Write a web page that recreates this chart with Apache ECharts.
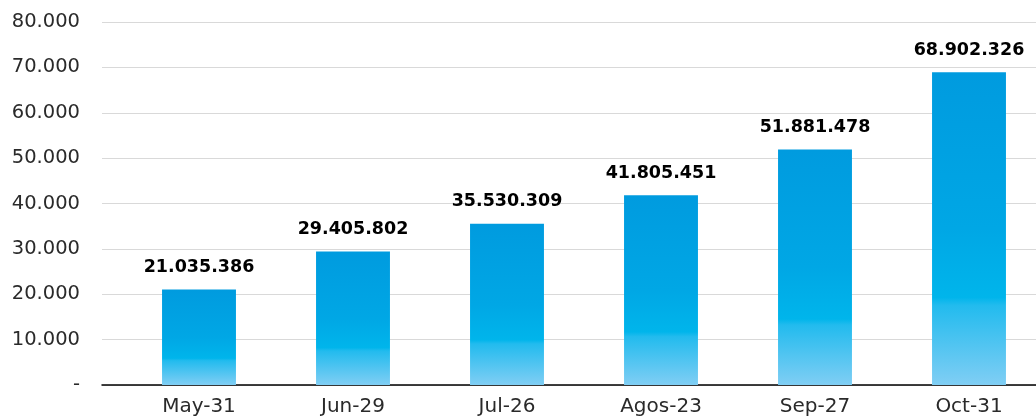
<!DOCTYPE html>
<html>
<head>
<meta charset="utf-8">
<script src="https://cdn.jsdelivr.net/npm/echarts@6/dist/echarts.min.js"></script>
<style>
html,body{margin:0;padding:0;background:#fff;}
#chart{width:1036px;height:416px;}
</style>
</head>
<body>
<div id="chart"></div>
<script>
const categories = ['May-31', 'Jun-29', 'Jul-26', 'Agos-23', 'Sep-27', 'Oct-31'];
const values = [21035386, 29405802, 35530309, 41805451, 51881478, 68902326];
const yMin = 0;
const yMax = 80000000;
const yInterval = 10000000;

function dots(n) {
  const s = String(Math.round(n));
  return s.replace(/\B(?=(\d{3})+(?!\d))/g, '.');
}

const chart = echarts.init(document.getElementById('chart'), null, {renderer: 'canvas'});
const barGradient = new echarts.graphic.LinearGradient(0, 0, 0, 1, [
  {offset: 0, color: '#009BDF'},
  {offset: 0.5, color: '#00A7E5'},
  {offset: 0.72, color: '#00B5EB'},
  {offset: 0.745, color: '#22BBEE'},
  {offset: 1, color: '#80CEF4'}
]);

chart.setOption({
  animation: false,
  backgroundColor: '#fff',
  grid: [
    {left: 102, right: 0, top: 22, bottom: 31, outerBoundsMode: 'none', containLabel: false},
    {left: 122, width: 924, top: 22, bottom: 31, outerBoundsMode: 'none', containLabel: false}
  ],
  xAxis: [
    {
      type: 'category', gridIndex: 0, data: [''],
      axisLine: {show: true, lineStyle: {color: '#000', width: 1.5}},
      axisTick: {show: false}, axisLabel: {show: false}, splitLine: {show: false}
    },
    {
      type: 'category', gridIndex: 1, data: categories,
      axisLine: {show: false}, axisTick: {show: false},
      axisLabel: {
        margin: 12, fontFamily: 'DejaVu Sans', fontSize: 20, color: '#2a2a2a'
      }
    }
  ],
  yAxis: [
    {
      type: 'value', gridIndex: 0, min: yMin, max: yMax, interval: yInterval,
      axisLine: {show: false}, axisTick: {show: false},
      axisLabel: {
        margin: 22, fontFamily: 'DejaVu Sans', fontSize: 19.5, color: '#2a2a2a',
        formatter: function (v) { return v === 0 ? '-' : dots(v / 1000); }
      },
      splitLine: {show: true, lineStyle: {color: '#D9D9D9', width: 1}}
    },
    {
      type: 'value', gridIndex: 1, min: yMin, max: yMax, interval: yInterval,
      show: false, splitLine: {show: false}
    }
  ],
  series: [
    {
      type: 'bar', xAxisIndex: 1, yAxisIndex: 1, data: values,
      barWidth: '48%', z: 3,
      itemStyle: {color: barGradient},
      label: {
        show: true, position: 'top', distance: 13,
        fontFamily: 'DejaVu Sans', fontWeight: 'bold', fontSize: 17.5, color: '#000',
        formatter: function (p) { return dots(p.value); }
      }
    }
  ]
});
</script>
</body>
</html>
